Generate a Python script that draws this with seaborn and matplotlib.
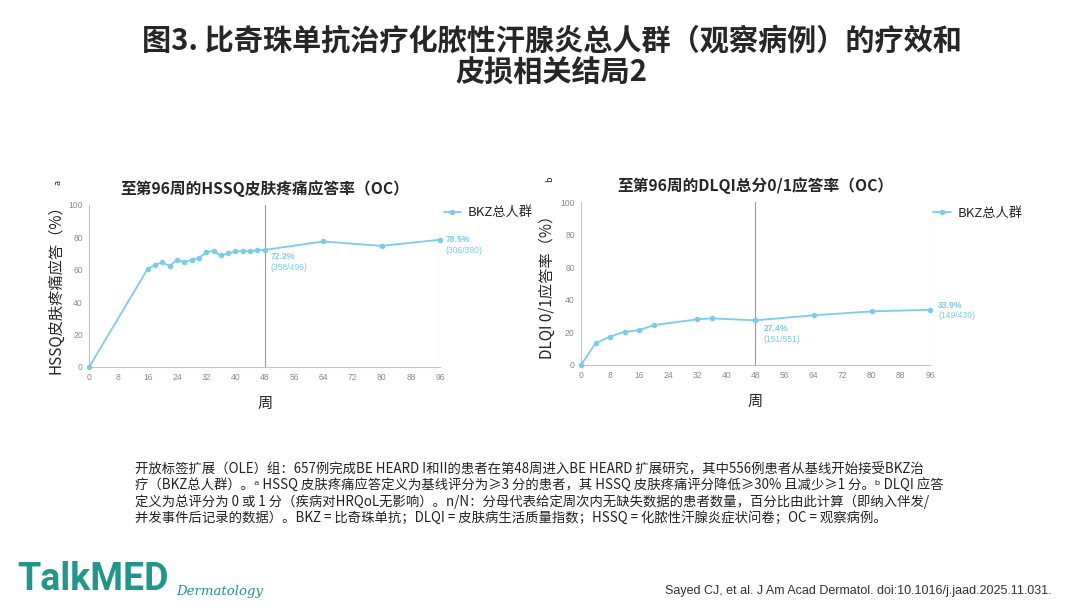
import pandas as pd
import matplotlib.pyplot as plt
import seaborn as sns

# DATOS
hssq_weeks = [0, 16, 18, 20, 22, 24, 26, 28, 30, 32, 34, 36, 38, 40, 42, 44, 46, 48, 64, 80, 96]
hssq_rate = [0, 60.6, 63.0, 64.5, 62.2, 66.1, 64.7, 66.1, 67.1, 70.8, 71.5, 68.8,
             70.0, 71.3, 71.5, 71.3, 72.1, 72.2, 77.4, 74.7, 78.5]
hssq_note_weeks = [48, 96]
hssq_note_pct = ["72.2%", "78.5%"]
hssq_note_n = ["(358/496)", "(306/390)"]

dlqi_weeks = [0, 4, 8, 12, 16, 20, 32, 36, 48, 64, 80, 96]
dlqi_rate = [0, 13.3, 17.4, 20.4, 21.3, 24.5, 28.0, 28.6, 27.4, 30.5, 32.9, 33.9]
dlqi_note_weeks = [48, 96]
dlqi_note_pct = ["27.4%", "33.9%"]
dlqi_note_n = ["(151/551)", "(149/439)"]

x_ticks = list(range(0, 97, 8))
y_ticks = [0, 20, 40, 60, 80, 100]
serie = "BKZ总人群"

titulo = "图3. 比奇珠单抗治疗化脓性汗腺炎总人群（观察病例）的疗效和\n皮损相关结局2"
pie = [
    "开放标签扩展（OLE）组：657例完成BE HEARD I和II的患者在第48周进入BE HEARD 扩展研究，其中556例患者从基线开始接受BKZ治",
    "疗（BKZ总人群）。ᵃ HSSQ 皮肤疼痛应答定义为基线评分为≥3 分的患者，其 HSSQ 皮肤疼痛评分降低≥30% 且减少≥1 分。ᵇ DLQI 应答",
    "定义为总评分为 0 或 1 分（疾病对HRQoL无影响）。n/N：分母代表给定周次内无缺失数据的患者数量，百分比由此计算（即纳入伴发/",
    "并发事件后记录的数据）。BKZ = 比奇珠单抗；DLQI = 皮肤病生活质量指数；HSSQ = 化脓性汗腺炎症状问卷；OC = 观察病例。",
]
cita = "Sayed CJ, et al. J Am Acad Dermatol. doi:10.1016/j.jaad.2025.11.031."

sns.set_style("white")
plt.rcParams['font.family'] = ['Noto Sans CJK SC', 'DejaVu Sans']

AZUL = "#7ccbeb"
GRIS = "#9a9a9a"
TEAL = "#22968a"

fig = plt.figure(figsize=(10.8, 6.08), dpi=100)


def panel(rect, weeks, rate, note_w, note_pct, note_n, sub_title, ylabel, sup, leg_y, off1, off2):
    ax = fig.add_axes(rect)
    df = pd.DataFrame({"week": weeks, "rate": rate})
    sns.lineplot(data=df, x="week", y="rate", marker="o", markersize=4, markeredgewidth=0,
                 color=AZUL, linewidth=1.3, label=serie, ax=ax, clip_on=False, zorder=3)
    ax.set_xlim(0, 96)
    ax.set_ylim(0, 100)
    ax.set_xticks(x_ticks)
    ax.set_yticks(y_ticks)
    ax.tick_params(axis='both', labelsize=6.2, colors="#8a8a8a", length=2.5, width=0.6,
                   direction='out', pad=2)
    for lab in ax.get_xticklabels() + ax.get_yticklabels():
        lab.set_family('Liberation Sans')
    for s in ['top', 'right']:
        ax.spines[s].set_visible(False)
    for s in ['left', 'bottom']:
        ax.spines[s].set_color("#c4c4c4")
        ax.spines[s].set_linewidth(0.8)
    ax.axvline(48, color=GRIS, linewidth=0.8, zorder=1)
    ax.axvline(96, color="#c4c4c4", linewidth=0.8, zorder=1)

    # etiquetas de valores
    lookup = dict(zip(weeks, rate))
    for w, p, n, o in zip(note_w, note_pct, note_n, [off1, off2]):
        ax.annotate(p, (w, lookup[w]), xytext=(o[0], o[1]), textcoords='offset points',
                    ha='left', va='center', fontsize=6.2, fontweight='bold', color=AZUL,
                    family='Liberation Sans', annotation_clip=False)
        ax.annotate(n, (w, lookup[w]), xytext=(o[0], o[1] - 7.5), textcoords='offset points',
                    ha='left', va='center', fontsize=6.2, color=AZUL,
                    family='Liberation Sans', annotation_clip=False)

    ax.set_title(sub_title, fontsize=11.3, fontweight='bold', pad=8)
    ax.set_xlabel("周", fontsize=11, labelpad=9)
    ax.set_ylabel(ylabel, fontsize=11, labelpad=3)
    ax.text(-0.09, 1.14, sup, transform=ax.transAxes, fontsize=6.5, rotation=90,
            ha='center', va='center')

    ax.legend(loc='center left', bbox_to_anchor=(0.995, leg_y), frameon=False,
              handlelength=1.3, handletextpad=0.5, fontsize=9.5, borderaxespad=0.0)
    return ax


panel([0.0826, 0.3964, 0.325, 0.2667], hssq_weeks, hssq_rate,
      hssq_note_weeks, hssq_note_pct, hssq_note_n,
      "至第96周的HSSQ皮肤疼痛应答率（OC）", "HSSQ皮肤疼痛应答（%）", "a", 0.95,
      (4, -5), (4, 0))

panel([0.538, 0.3997, 0.323, 0.268], dlqi_weeks, dlqi_rate,
      dlqi_note_weeks, dlqi_note_pct, dlqi_note_n,
      "至第96周的DLQI总分0/1应答率（OC）", "DLQI 0/1应答率（%）", "b", 0.93,
      (6, -6), (6, 3))

# TÍTULO PRINCIPAL
fig.text(0.511, 0.907, titulo, ha='center', va='center', fontsize=21,
         fontweight='bold', linespacing=1.1)

# NOTA AL PIE
for i, linea in enumerate(pie):
    fig.text(0.125, 1 - (469 + i * 16.2) / 608, linea, ha='left', va='center',
             fontsize=9.6, color="#222222", family=['Noto Sans CJK SC', 'DejaVu Sans'])

# LOGO Y CITA
fig.text(0.016, 1 - 580 / 608, "TalkMED", ha='left', va='center', fontsize=27,
         fontweight='bold', color=TEAL, family='Roboto')
fig.text(0.163, 1 - 591 / 608, "Dermatology", ha='left', va='center', fontsize=9.5,
         style='italic', color=TEAL, family='DejaVu Serif')
fig.text(0.974, 1 - 591 / 608, cita, ha='right', va='center', fontsize=9,
         color="#333333", family='Liberation Sans')

plt.savefig("out.png", dpi=100)
